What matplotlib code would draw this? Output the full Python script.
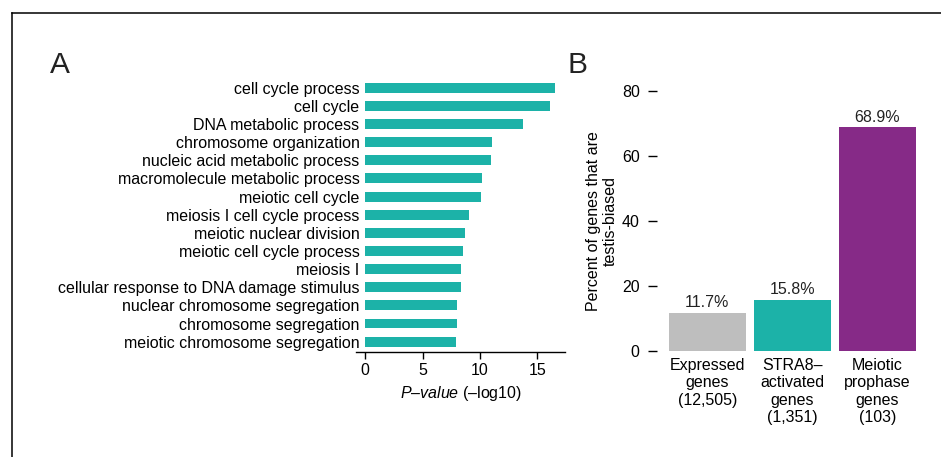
import matplotlib
matplotlib.use("Agg")
import matplotlib.pyplot as plt
from matplotlib.lines import Line2D

plt.rcParams['font.family'] = ['Liberation Sans', 'DejaVu Sans']
plt.rcParams['mathtext.fontset'] = 'custom'
plt.rcParams['mathtext.it'] = 'Liberation Sans:italic'
plt.rcParams['mathtext.rm'] = 'Liberation Sans'

# panel A: GO terms and -log10 p-values
terms = ["cell cycle process", "cell cycle", "DNA metabolic process",
         "chromosome organization", "nucleic acid metabolic process",
         "macromolecule metabolic process", "meiotic cell cycle",
         "meiosis I cell cycle process", "meiotic nuclear division",
         "meiotic cell cycle process", "meiosis I",
         "cellular response to DNA damage stimulus",
         "nuclear chromosome segregation", "chromosome segregation",
         "meiotic chromosome segregation"]
pvals = [16.55, 16.1, 13.75, 11.05, 10.95, 10.15, 10.05, 9.05, 8.7,
         8.5, 8.35, 8.35, 8.0, 8.0, 7.9]

# panel B: percent testis-biased
groups = ["Expressed\ngenes\n(12,505)", "STRA8\u2013\nactivated\ngenes\n(1,351)",
          "Meiotic\nprophase\ngenes\n(103)"]
percent = [11.7, 15.8, 68.9]
bar_colors = ["#bebebe", "#1cb2a8", "#862a87"]

teal = "#1cb2a8"
fs = 11.5

fig = plt.figure(figsize=(9.41, 4.57), dpi=100)

# frame lines (left and top)
fig.add_artist(Line2D([11.7 / 941, 11.7 / 941], [0, 1 - 12.7 / 457],
                      color="black", lw=1.1))
fig.add_artist(Line2D([11.7 / 941, 1], [1 - 12.7 / 457, 1 - 12.7 / 457],
                      color="black", lw=1.1))

# ---- panel A
axA = fig.add_axes([356 / 941, 0.2298, 209 / 941, 0.6002])
ypos = list(range(len(terms)))
axA.barh(ypos, pvals, height=0.55, color=teal)
axA.set_ylim(14.57, -0.55)
axA.set_xlim(-0.8, 17.4)
axA.set_yticks(ypos)
axA.set_yticklabels(terms, fontsize=fs)
axA.set_xticks([0, 5, 10, 15])
axA.tick_params(axis='y', length=0, pad=-2.5)
axA.tick_params(axis='x', length=5, width=1, pad=3, labelsize=fs)
for s in ["left", "right", "top"]:
    axA.spines[s].set_visible(False)
axA.spines["bottom"].set_linewidth(1)
axA.set_xlabel(r"$\mathit{P}$" + "\u2013" + r"$\mathit{value}$" + " (\u2013log10)",
               fontsize=fs, labelpad=4)

# ---- panel B
axB = fig.add_axes([657 / 941, 0.2319, 263 / 941, 0.568])
xpos = list(range(len(groups)))
bars = axB.bar(xpos, percent, width=0.9, color=bar_colors)
axB.set_xlim(-0.59, 2.5)
axB.set_ylim(0, 80)
axB.set_yticks([0, 20, 40, 60, 80])
axB.set_xticks(xpos)
axB.set_xticklabels(groups, fontsize=fs, linespacing=1.2)
axB.tick_params(axis='x', length=0, pad=5)
axB.tick_params(axis='y', length=6.5, width=1, pad=6, labelsize=fs)
for s in ["left", "right", "top", "bottom"]:
    axB.spines[s].set_visible(False)
for b, v in zip(bars, percent):
    axB.annotate(f"{v}%", (b.get_x() + b.get_width() / 2, v),
                 xytext=(0, 2), textcoords="offset points",
                 ha="center", va="bottom", fontsize=fs, color="#222222",
                 annotation_clip=False)
axB.set_ylabel("Percent of genes that are\ntestis-biased", fontsize=fs,
               linespacing=1.15, labelpad=3)

# panel letters
fig.text(50 / 941, 1 - 73.3 / 457, "A", fontsize=21.5, color="#222222",
         ha="left", va="baseline")
fig.text(567 / 941, 1 - 73.3 / 457, "B", fontsize=21.5, color="#222222",
         ha="left", va="baseline")

fig.savefig("out.png", dpi=100)
